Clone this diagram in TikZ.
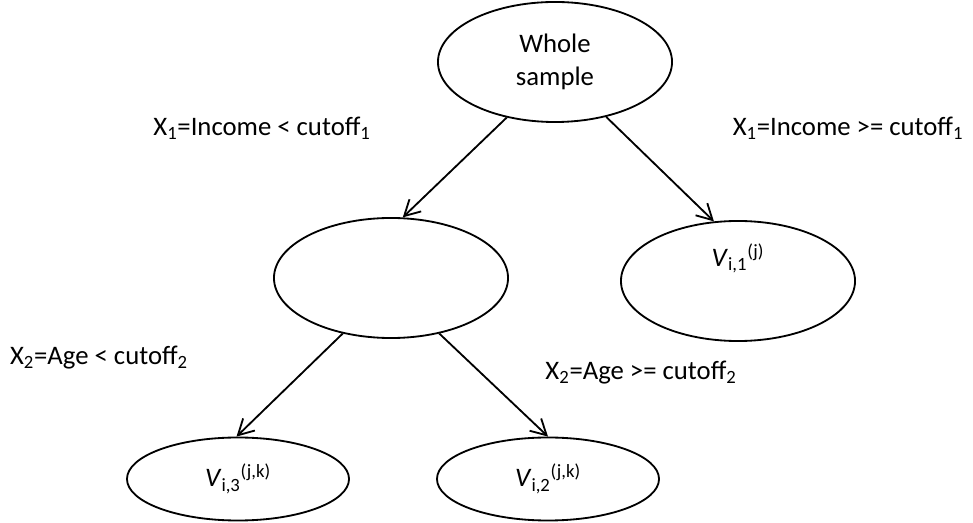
\documentclass[tikz,border=0pt]{standalone}
\usepackage{fontspec}
\setmainfont{Carlito}
\usetikzlibrary{shapes.geometric, arrows.meta}

\begin{document}
\begin{tikzpicture}[
  x = 0.025cm,
  y = -0.025cm,
  line width = 1.3pt,
  font = \fontsize{19}{24}\selectfont,
  > = {Straight Barb[length = 11pt, width = 12pt]},
  branch/.style = {draw, ellipse, inner sep = 0pt, minimum width = 5.85cm, minimum height = 3cm},
  leaf/.style = {draw, ellipse, inner sep = 0pt, minimum width = 5.55cm, minimum height = 2.075cm},
  ]

  \useasboundingbox (0, 0) rectangle (973, 523);

  \node at (555, 62)
  [branch, name = Whole, align = center] {Whole\\sample};

  \node at (391, 278)
  [branch, name = LowIncome] {};

  \node at (738, 281)
  [branch, name = HighIncome, text height = 17pt, text depth = 38pt] {\textit{V}\textsubscript{i,1}\textsuperscript{(j)}};

  \node at (238, 479)
  [leaf, name = LowAge] {\textit{V}\textsubscript{i,3}\textsuperscript{(j,k)}};

  \node at (548, 479)
  [leaf, name = HighAge] {\textit{V}\textsubscript{i,2}\textsuperscript{(j,k)}};

  \node at (262, 128)
  [name = IncomeLow] {X\textsubscript{1}=Income < cutoff\textsubscript{1}};

  \node at (848, 128)
  [name = IncomeHigh] {X\textsubscript{1}=Income >= cutoff\textsubscript{1}};

  \node at (99, 358)
  [name = AgeLow] {X\textsubscript{2}=Age < cutoff\textsubscript{2}};

  \node at (641, 373)
  [name = AgeHigh] {X\textsubscript{2}=Age >= cutoff\textsubscript{2}};

  \draw [->] (Whole.229) to (LowIncome.79);

  \draw [->] (Whole.313) to (HighIncome.112);

  \draw [->] (LowIncome.229) to (LowAge.92);

  \draw [->] (LowIncome.311) to (HighAge.90);

\end{tikzpicture}
\end{document}
